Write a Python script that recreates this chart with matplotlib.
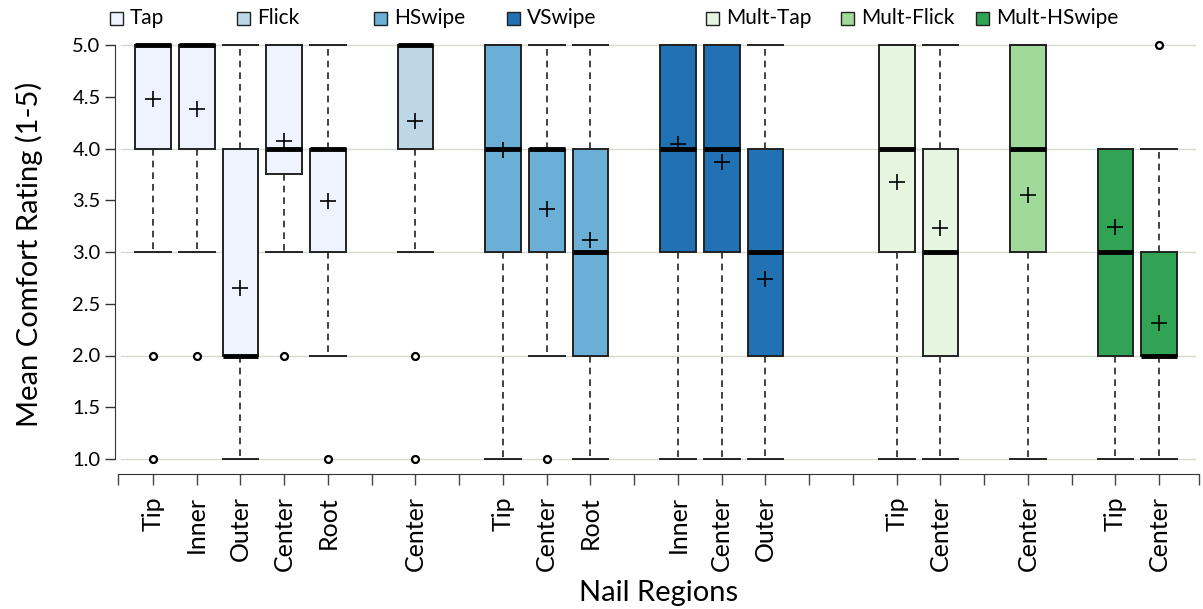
import numpy as np
import matplotlib
matplotlib.use("Agg")
import matplotlib.pyplot as plt
from matplotlib.patches import Rectangle

plt.rcParams['font.family'] = ['Lato', 'DejaVu Sans']

gestures = ["Tap", "Flick", "HSwipe", "VSwipe", "Mult-Tap", "Mult-Flick", "Mult-HSwipe"]
colors = ["#eff3ff", "#bdd7e7", "#6baed6", "#2171b5", "#e5f5e0", "#a1d99b", "#31a354"]

# one entry per box
gest = [0, 0, 0, 0, 0, 1, 2, 2, 2, 3, 3, 3, 4, 4, 5, 6, 6]
regions = ["Tip", "Inner", "Outer", "Center", "Root", "Center", "Tip", "Center", "Root",
           "Inner", "Center", "Outer", "Tip", "Center", "Center", "Tip", "Center"]
pos = [1, 2, 3, 4, 5, 7, 9, 10, 11, 13, 14, 15, 18, 19, 21, 23, 24]
q1 = [4, 4, 2, 3.75, 3, 4, 3, 3, 2, 3, 3, 2, 3, 2, 3, 2, 2]
med = [5, 5, 2, 4, 4, 5, 4, 4, 3, 4, 4, 3, 4, 3, 4, 3, 2]
q3 = [5, 5, 4, 5, 4, 5, 5, 4, 4, 5, 5, 4, 5, 4, 5, 4, 3]
wlo = [3, 3, 1, 3, 2, 3, 1, 2, 1, 1, 1, 1, 1, 1, 1, 1, 1]
whi = [5, 5, 5, 5, 5, 5, 5, 5, 5, 5, 5, 5, 5, 5, 5, 4, 4]
means = [4.48, 4.38, 2.65, 4.07, 3.49, 4.27, 3.99, 3.42, 3.12, 4.04, 3.87, 2.74,
         3.68, 3.23, 3.55, 3.24, 2.31]
fliers = [[2, 1], [2], [], [2], [1], [2, 1], [], [1], [], [], [], [], [], [], [], [], [5]]

fig = plt.figure(figsize=(12.03, 6.09), dpi=100)
W, H = 1203, 609
left, right, top, bottom = 118, 1199, 35, 474
ax = fig.add_axes([left / W, 1 - bottom / H, (right - left) / W, (bottom - top) / H])
ax.set_xlim(0.2, 24.91)
ax.set_ylim(1 - 15 / 103.5, 5 + 10 / 103.5)

for g in range(1, 6):
    ax.axhline(g, xmin=0.003, xmax=0.996, color="#d5dccd", lw=1.0, zorder=0)

stats = []
for i in range(len(pos)):
    stats.append(dict(q1=q1[i], med=med[i], q3=q3[i], whislo=wlo[i], whishi=whi[i],
                      mean=means[i], fliers=fliers[i]))

bp = ax.bxp(stats, positions=pos, widths=0.82, patch_artist=True, showmeans=True,
            boxprops=dict(edgecolor="#222222", linewidth=1.4),
            medianprops=dict(color="black", linewidth=3.5, solid_capstyle="butt"),
            whiskerprops=dict(color="#222222", linewidth=1.2, linestyle=(0, (4, 3))),
            capprops=dict(color="#222222", linewidth=1.4),
            capwidths=0.82,
            meanprops=dict(marker="+", markersize=11, markeredgecolor="black",
                           markeredgewidth=1.2),
            flierprops=dict(marker="o", markersize=5, markerfacecolor="white",
                            markeredgecolor="black", markeredgewidth=1.6))
for patch, g in zip(bp["boxes"], gest):
    patch.set_facecolor(colors[g])

for s in ["top", "right"]:
    ax.spines[s].set_visible(False)
ax.spines["left"].set_bounds(1, 5)
ax.spines["left"].set_color("#333333")
ax.spines["bottom"].set_color("#333333")
ax.spines["left"].set_position(("outward", 2))

ax.set_yticks(np.arange(1, 5.01, 0.5))
ax.set_yticklabels(["%.1f" % v for v in np.arange(1, 5.01, 0.5)])
ax.tick_params(axis="y", labelsize=14.5, length=7, width=1, color="#333333")

xt = [0.2] + list(range(1, 25)) + [24.91]
ax.set_xticks(xt)
labs = []
for t in xt:
    if t in pos:
        labs.append(regions[pos.index(t)])
    else:
        labs.append("")
ax.set_xticklabels(labs, rotation=90)
ax.tick_params(axis="x", labelsize=18, length=8, width=1, color="#444444", pad=8)

ax.set_ylabel("Mean Comfort Rating (1-5)", fontsize=21, labelpad=21)
ax.set_xlabel("Nail Regions", fontsize=21, labelpad=6)

# legend along the top
legx = [110, 237, 374, 507, 706, 841, 976]
for x, name, c in zip(legx, gestures, colors):
    fig.add_artist(Rectangle((x / W, 1 - 25 / H), 13 / W, 13 / H, facecolor=c,
                             edgecolor="#222222", linewidth=1.0, transform=fig.transFigure))
    fig.text((x + 20) / W, 1 - 18 / H, name, fontsize=15, va="center", ha="left")

fig.savefig("out.png", dpi=100)
